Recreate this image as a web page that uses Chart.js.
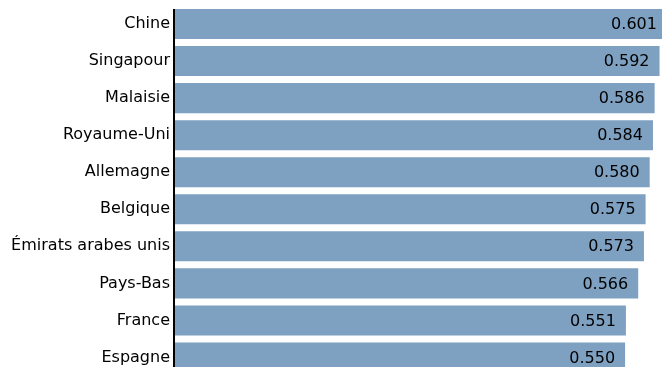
<!DOCTYPE html>
<html>
<head>
<meta charset="utf-8">
<script src="https://cdn.jsdelivr.net/npm/chart.js@4/dist/chart.umd.min.js"></script>
<style>
    html, body { margin: 0; padding: 0; background: #fff; overflow: hidden; }
    #boite { position: relative; width: 662px; height: 376px; }
</style>
</head>
<body>
<div id="boite"><canvas id="graphiquePays"></canvas></div>
<script>
    // pays classés par score
    const pays = ["Chine", "Singapour", "Malaisie", "Royaume-Uni", "Allemagne",
        "Belgique", "Émirats arabes unis", "Pays-Bas", "France", "Espagne"];
    const scores = [0.601, 0.592, 0.586, 0.584, 0.580, 0.575, 0.573, 0.566, 0.551, 0.550];

    const police = "'DejaVu Sans', Verdana, sans-serif";

    // axe vertical qui commence au haut de la première barre
    const axeGauche = {
        id: 'axeGauche',
        afterDatasetsDraw(chart) {
            const ctx = chart.ctx;
            const premiere = chart.getDatasetMeta(0).data[0];
            const x = chart.chartArea.left;
            ctx.save();
            ctx.strokeStyle = '#000';
            ctx.lineWidth = 2;
            ctx.beginPath();
            ctx.moveTo(x, premiere.y - premiere.height / 2);
            ctx.lineTo(x, chart.chartArea.bottom);
            ctx.stroke();
            ctx.restore();
        }
    };

    // écrit la valeur à l'intérieur de chaque barre, près de son extrémité
    const etiquettes = {
        id: 'etiquettes',
        afterDatasetsDraw(chart) {
            const ctx = chart.ctx;
            const meta = chart.getDatasetMeta(0);
            ctx.save();
            ctx.font = "16px " + police;
            ctx.fillStyle = '#000';
            ctx.textAlign = 'right';
            ctx.textBaseline = 'middle';
            meta.data.forEach((barre, i) => {
                ctx.fillText(scores[i].toFixed(3), barre.x - 10, barre.y + 1);
            });
            ctx.restore();
        }
    };

    const ctx = document.getElementById('graphiquePays').getContext('2d');
    new Chart(ctx, {
        type: 'bar',
        data: {
            labels: pays,
            datasets: [{
                data: scores,
                backgroundColor: 'rgb(126, 160, 193)',
                borderWidth: 0,
                barPercentage: 1,
                categoryPercentage: 0.81
            }]
        },
        options: {
            indexAxis: 'y',
            responsive: true,
            maintainAspectRatio: false,
            animation: false,
            layout: { padding: { top: 5.5, right: 0, bottom: 0, left: 0 } },
            scales: {
                x: {
                    display: false,
                    min: 0,
                    max: 0.595
                },
                y: {
                    afterFit(scale) {
                        scale.width = 174;
                        scale.paddingTop = 0;
                        scale.paddingBottom = 0;
                    },
                    grid: { display: false, drawTicks: false },
                    border: { display: false },
                    ticks: {
                        padding: 4,
                        color: '#000',
                        font: { family: police, size: 16 }
                    }
                }
            },
            plugins: {
                legend: { display: false },
                tooltip: { enabled: false }
            }
        },
        plugins: [axeGauche, etiquettes]
    });
</script>
</body>
</html>
